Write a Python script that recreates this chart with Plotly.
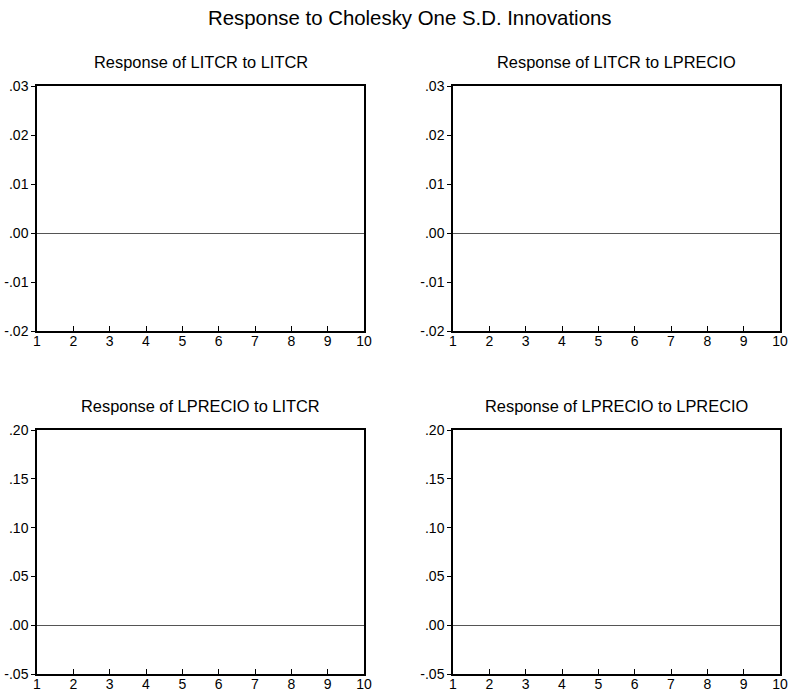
import plotly.graph_objects as go

periods = [1, 2, 3, 4, 5, 6, 7, 8, 9, 10]
panel_titles = [
    "Response of LITCR to LITCR",
    "Response of LITCR to LPRECIO",
    "Response of LPRECIO to LITCR",
    "Response of LPRECIO to LPRECIO",
]
top_ticks = [-0.02, -0.01, 0.00, 0.01, 0.02, 0.03]
top_labels = ["-.02", "-.01", ".00", ".01", ".02", ".03"]
bot_ticks = [-0.05, 0.00, 0.05, 0.10, 0.15, 0.20]
bot_labels = ["-.05", ".00", ".05", ".10", ".15", ".20"]
top_range = [-0.02, 0.03]
bot_range = [-0.05, 0.20]

W, H = 791, 696
xdoms = [(37 / W, 364 / W), (453 / W, 780 / W)]
ydoms = [(1 - 331 / H, 1 - 86 / H), (1 - 674 / H, 1 - 430 / H)]
title_y = [62, 406]

fig = go.Figure()
font = "Arial, Liberation Sans, sans-serif"
annotations = []
k = 0
for r in range(2):
    for c in range(2):
        k += 1
        sx = "" if k == 1 else str(k)
        fig.add_trace(go.Scatter(x=periods, y=[None] * len(periods), mode="lines",
                                 xaxis="x" + sx, yaxis="y" + sx, showlegend=False,
                                 hoverinfo="skip"))
        ticks = top_ticks if r == 0 else bot_ticks
        labels = top_labels if r == 0 else bot_labels
        rng = top_range if r == 0 else bot_range
        fig.layout["xaxis" + sx] = dict(
            domain=list(xdoms[c]), range=[1, 10], anchor="y" + sx, automargin=False,
            tickmode="array", tickvals=periods, ticktext=[str(p) for p in periods],
            ticks="inside", ticklen=5, tickcolor="black", tickwidth=1,
            ticklabelstandoff=-4,
            showline=True, linecolor="black", linewidth=1.5, mirror=True,
            showgrid=False, zeroline=False,
            tickfont=dict(family=font, size=14, color="black"),
        )
        fig.layout["yaxis" + sx] = dict(
            domain=list(ydoms[r]), range=rng, anchor="x" + sx, automargin=False,
            tickmode="array", tickvals=ticks, ticktext=labels,
            ticks="outside", ticklen=4, tickcolor="black", tickwidth=1,
            showline=True, linecolor="black", linewidth=1.5, mirror=True,
            showgrid=False, zeroline=True, zerolinecolor="#555555", zerolinewidth=1,
            tickfont=dict(family=font, size=14, color="black"),
        )
        annotations.append(dict(
            text=panel_titles[k - 1], x=(xdoms[c][0] + xdoms[c][1]) / 2,
            y=1 - title_y[r] / H, xref="paper", yref="paper",
            xanchor="center", yanchor="middle", showarrow=False,
            font=dict(family=font, size=16.4, color="black"),
        ))

annotations.append(dict(
    text="Response to Cholesky One S.D. Innovations", x=410 / W, y=1 - 18 / H,
    xref="paper", yref="paper", xanchor="center", yanchor="middle", showarrow=False,
    font=dict(family=font, size=20.4, color="black"),
))

fig.update_layout(
    width=W, height=H, margin=dict(l=0, r=0, t=0, b=0, pad=0),
    paper_bgcolor="white", plot_bgcolor="white",
    annotations=annotations, showlegend=False,
)
fig.write_html(
    "out.html",
    config={"displayModeBar": False},
    post_script="document.body.style.margin='0';document.body.style.overflow='hidden';",
)
